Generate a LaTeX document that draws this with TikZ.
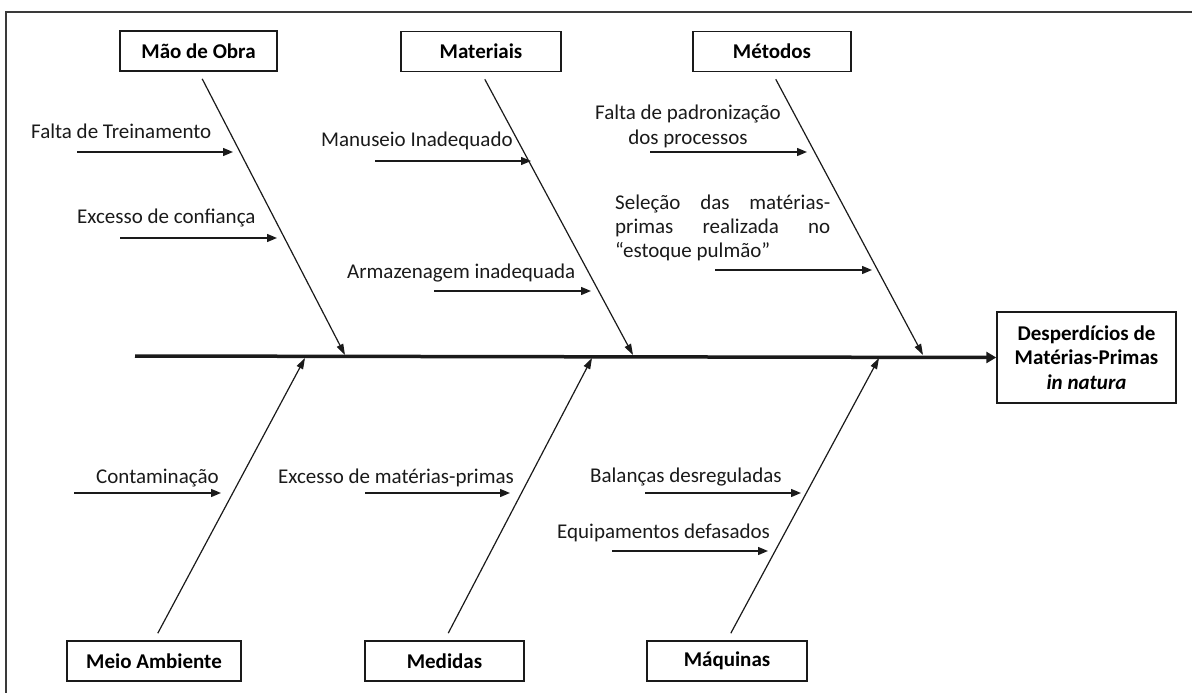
\documentclass[tikz,border=0pt]{standalone}
\usepackage{fontspec}
\setmainfont{Carlito}
\usetikzlibrary{arrows.meta}
\definecolor{ink}{HTML}{1A1A1A}
\definecolor{framegray}{HTML}{3A3A3A}
\begin{document}
\begin{tikzpicture}[x=1pt,y=-1pt,
  font=\fontsize{21}{24.5}\selectfont,
  catbox/.style={draw=ink, line width=1.4pt, minimum height=40pt, inner sep=0pt,
    font=\fontsize{21}{24.5}\selectfont\bfseries},
  lbl/.style={inner sep=0pt, text=ink},
  bone/.style={draw=ink, line width=1.2pt, -{Triangle[length=11pt,width=7pt]}},
  sub/.style={draw=ink, line width=1.4pt, -{Triangle[length=10pt,width=8pt]}},
  spine/.style={draw=ink, line width=3.5pt, -{Triangle[length=10pt,width=11pt]}}
]
\useasboundingbox (0,0) rectangle (1192,693);

% outer frame (open at right and bottom)
\draw[framegray, line width=1.4pt] (6,693) -- (6,12) -- (1192,12);

% effect
\node[draw=ink, line width=1.4pt, minimum width=179pt, minimum height=91pt, inner sep=0pt,
      align=center, font=\fontsize{21}{24.5}\selectfont\bfseries]
  (effect) at (1086.5,357.5) {Desperdícios de\\Matérias-Primas\\\textit{in natura}};

% spine
\coordinate (tail) at (135,356);
\draw[spine] (tail) -- (effect.west);

% category boxes
\node[catbox, minimum width=157pt] (mo)  at (198.5,51) {Mão de Obra};
\node[catbox, minimum width=160pt] (mat) at (481,51.5) {Materiais};
\node[catbox, minimum width=158pt] (met) at (772,51.5) {Métodos};
\node[catbox, minimum width=174pt] (ma)  at (154,661) {Meio Ambiente};
\node[catbox, minimum width=159pt] (med) at (444.5,661) {Medidas};
\node[catbox, minimum width=160pt] (maq) at (727,661) {Máquinas};

% points where the bones meet the spine
\coordinate (jmo)  at (345,355);
\coordinate (jmat) at (633,355);
\coordinate (jmet) at (923,355);
\coordinate (jma)  at (305,358);
\coordinate (jmed) at (592,358);
\coordinate (jmaq) at (879,358);

% bones
\draw[bone, shorten <=8pt] (mo.south)  -- (jmo);
\draw[bone, shorten <=8pt] (mat.south) -- (jmat);
\draw[bone, shorten <=8pt] (met.south) -- (jmet);
\draw[bone, shorten <=8pt] (ma.north)  -- (jma);
\draw[bone, shorten <=8pt] (med.north) -- (jmed);
\draw[bone, shorten <=8pt] (maq.north) -- (jmaq);

% causes: Mão de Obra
\node[lbl, anchor=base west] (c1) at (31,139) {Falta de Treinamento};
\coordinate (s1) at (77,152);  \coordinate (e1) at (233,152);
\draw[sub] (s1) -- (e1);
\node[lbl, anchor=base west] (c2) at (77,223) {Excesso de confiança};
\coordinate (s2) at (120,238); \coordinate (e2) at (277,238);
\draw[sub] (s2) -- (e2);

% causes: Materiais
\node[lbl, anchor=base west] (c3) at (321,146) {Manuseio Inadequado};
\coordinate (s3) at (375,161); \coordinate (e3) at (531,161);
\draw[sub] (s3) -- (e3);
\node[lbl, anchor=base west] (c4) at (347,278) {Armazenagem inadequada};
\coordinate (s4) at (434,291); \coordinate (e4) at (591,291);
\draw[sub] (s4) -- (e4);

% causes: Métodos
\node[lbl, anchor=north, align=center] (c5) at (688,105) {Falta de padronização\\dos processos};
\coordinate (s5) at (650,152); \coordinate (e5) at (807,152);
\draw[sub] (s5) -- (e5);
\node[lbl, anchor=north west, align=left, font=\fontsize{21}{24}\selectfont] (c6) at (615,195)
  {\makebox[215pt][s]{Seleção das matérias-}\\\makebox[215pt][s]{primas realizada no}\\“estoque pulmão”};
\coordinate (s6) at (715,270); \coordinate (e6) at (872,270);
\draw[sub] (s6) -- (e6);

% causes: Meio Ambiente
\node[lbl, anchor=base west] (c7) at (96,483) {Contaminação};
\coordinate (s7) at (74,493);  \coordinate (e7) at (221,493);
\draw[sub] (s7) -- (e7);

% causes: Medidas
\node[lbl, anchor=base west] (c8) at (278,483) {Excesso de matérias-primas};
\coordinate (s8) at (365,493); \coordinate (e8) at (510,493);
\draw[sub] (s8) -- (e8);

% causes: Máquinas
\node[lbl, anchor=base west] (c9) at (590,482) {Balanças desreguladas};
\coordinate (s9) at (645,493); \coordinate (e9) at (801,493);
\draw[sub] (s9) -- (e9);
\node[lbl, anchor=base west] (c10) at (557,538) {Equipamentos defasados};
\coordinate (s10) at (612,551); \coordinate (e10) at (768,551);
\draw[sub] (s10) -- (e10);
\end{tikzpicture}
\end{document}
